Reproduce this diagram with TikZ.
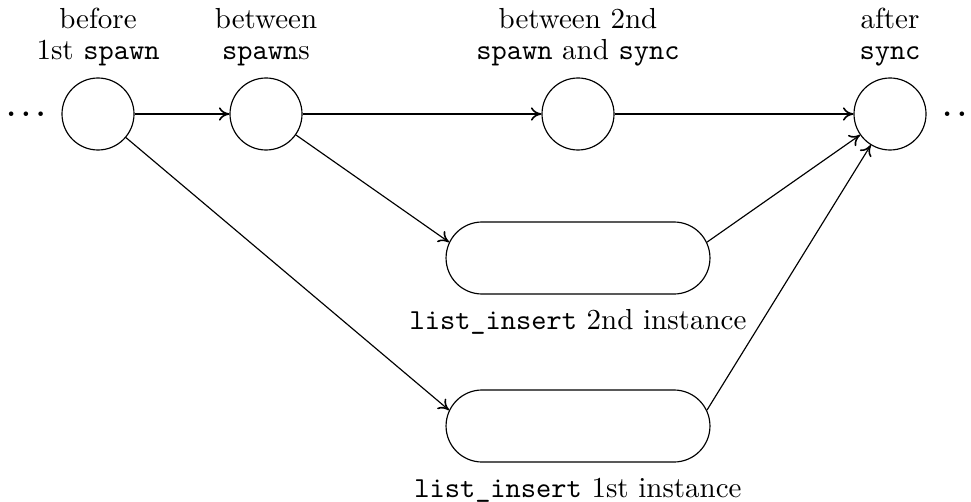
\documentclass[tikz,border=0pt]{standalone}
\usetikzlibrary{shapes.misc,arrows.meta}
\begin{document}
\begin{tikzpicture}[x=0.3448pt,y=-0.3448pt,
  state/.style={draw,circle,minimum size=24.83pt,inner sep=0pt},
  task/.style={draw,rounded rectangle,minimum width=91pt,minimum height=24.83pt,inner sep=0pt},
  toplabel/.style={align=center,inner sep=0pt,anchor=south,font={\fontsize{10}{10.7}\selectfont}},
  botlabel/.style={inner sep=0pt,anchor=base},
  dotslabel/.style={inner sep=0pt,font=\boldmath},
  flow/.style={-{To[length=3.6pt,width=4.6pt,line width=0.55pt]}}]
\useasboundingbox (0,0) rectangle (971,501);
\node[state] (c1) at (98,114) {};
\node[state] (c2) at (266,114) {};
\node[state] (c3) at (578,114) {};
\node[state] (c4) at (890,114) {};
\node[task] (b1) at (578,258) {};
\node[task] (b2) at (578,426) {};
\node[dotslabel] (ld) at (26,114) {$\ldots$};
\node[dotslabel] (rd) at (962,114) {$\ldots$};
\node[toplabel] (l1) at (98,66.4) {before\\1st \texttt{spawn}};
\node[toplabel] (l2) at (266,66.4) {between\\\texttt{spawn}s};
\node[toplabel] (l3) at (578,66.4) {between 2nd\\\texttt{spawn} and \texttt{sync}};
\node[toplabel] (l4) at (890,66.4) {after\\\texttt{sync}};
\node[botlabel] (lb1) at (578,329) {\texttt{list\_insert} 2nd instance};
\node[botlabel] (lb2) at (578,497) {\texttt{list\_insert} 1st instance};
\draw[flow] (c1) -- (c2);
\draw[flow] (c2) -- (c3);
\draw[flow] (c3) -- (c4);
\draw[flow] (c1) -- (b2.173);
\draw[flow] (c2) -- (b1.173);
\draw[flow] (b1.7) -- (c4);
\draw[flow] (b2.7) -- (c4);
\end{tikzpicture}
\end{document}
